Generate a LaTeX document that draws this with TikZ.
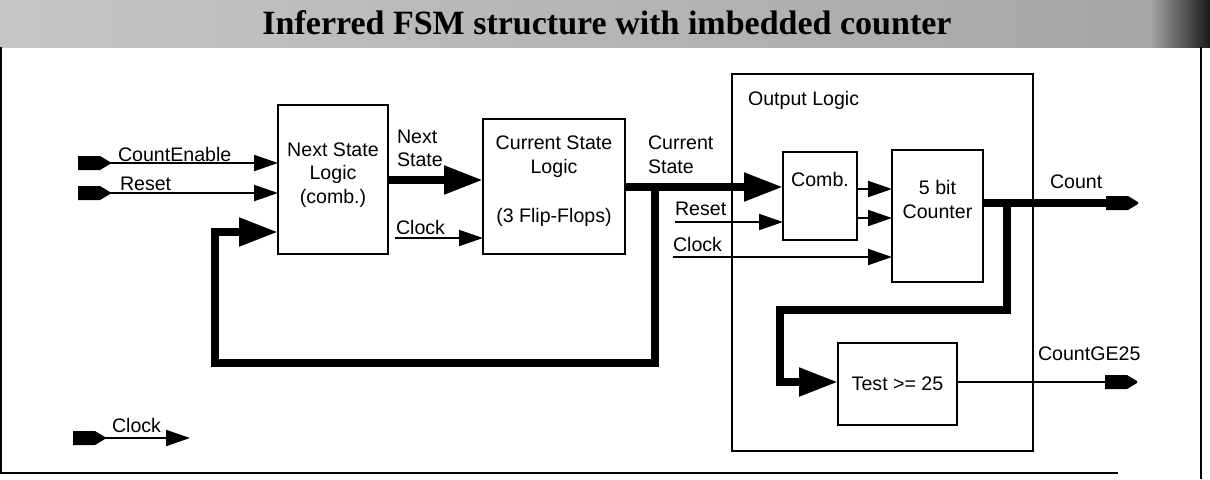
\documentclass[tikz,border=0pt]{standalone}
\usepackage{fontspec}
\setmainfont{Liberation Sans}
\newfontfamily\titlefont{Liberation Serif}
\usetikzlibrary{arrows.meta}
\begin{document}
\begin{tikzpicture}[x=0.5pt,y=-0.5pt,
  blk/.style={draw,line width=1.3pt,inner sep=0pt,outer sep=0pt,rectangle},
  lbl/.style={inner sep=0pt,outer sep=0pt,font=\fontsize{9.8pt}{11.75pt}\selectfont,anchor=base west},
  blbl/.style={inner sep=0pt,outer sep=0pt,font=\fontsize{9.8pt}{11.75pt}\selectfont,anchor=base},
  sig/.style={line width=1pt,-{Triangle[length=12pt,width=8pt]}},
  bus/.style={line width=4pt,line join=miter,-{Triangle[length=19.5pt,width=13.5pt]}},
  busline/.style={line width=4pt,line join=miter},
  frameline/.style={line width=1.3pt},
  porttag/.pic={\fill (0,-7) -- (22,-7) -- (32,-1) -- (32,1) -- (22,7) -- (0,7) -- cycle;}
]
\useasboundingbox (0,0) rectangle (1210,479);
% title band
\shade[left color=gray!45,right color=gray!70] (0,0) rectangle (1150,47);
\shade[left color=gray!70,right color=black!90] (1150,0) rectangle (1210,47);
\node[inner sep=0pt,anchor=base,font=\titlefont\bfseries\fontsize{17pt}{20pt}\selectfont] (title) at (607,34) {Inferred FSM structure with imbedded counter};
% frame
\draw[frameline] (1,47) -- (1,473);
\draw[frameline] (0,473) -- (1118,473);
\draw[frameline] (1201,47) -- (1201,479);

% output logic container
\node[blk,minimum width=150.5pt,minimum height=188.5pt] (outl) at (882.5,262.5) {};
\node[lbl] (outlT) at (748,105) {Output Logic};

% blocks
\node[blk,minimum width=55pt,minimum height=74.5pt] (ns) at (333,179.5) {};
\node[blbl] (nsT1) at (333,156) {Next State};
\node[blbl] (nsT2) at (333,179) {Logic};
\node[blbl] (nsT3) at (333,203) {(comb.)};

\node[blk,minimum width=71pt,minimum height=67.5pt] (cs) at (554,186.5) {};
\node[blbl] (csT1) at (554,149) {Current State};
\node[blbl] (csT2) at (554,173) {Logic};
\node[blbl] (csT3) at (554,222) {(3 Flip-Flops)};

\node[blk,minimum width=37pt,minimum height=44pt] (comb) at (820,196) {};
\node[blbl] (combT) at (820,186) {Comb.};

\node[blk,minimum width=45.5pt,minimum height=66pt] (cnt) at (937.5,216) {};
\node[blbl] (cntT1) at (937.5,194) {5 bit};
\node[blbl] (cntT2) at (937.5,218) {Counter};

\node[blk,minimum width=59.5pt,minimum height=41pt] (test) at (897.5,384) {};
\node[blbl] (testT) at (897.5,390) {Test >= 25};

% input ports
\pic at (78,163) {porttag};
\coordinate (ceE) at (110,163);
\node[lbl] (ceL) at (118,161) {CountEnable};
\draw[sig] (ceE) -- (ceE -| ns.west);

\pic at (78,193) {porttag};
\coordinate (rsE) at (110,193);
\node[lbl] (rsL) at (120,190) {Reset};
\draw[sig] (rsE) -- (rsE -| ns.west);

% next state -> current state
\coordinate (nsy) at (0,180);
\draw[bus] (ns.east |- nsy) -- (cs.west |- nsy);
\node[lbl] (nsL1) at (397,143) {Next};
\node[lbl] (nsL2) at (397,166) {State};

% clock to current state
\coordinate (clk1) at (395,238);
\node[lbl] (clk1L) at (396,234) {Clock};
\draw[sig] (clk1) -- (clk1 -| cs.west);

% current state -> comb
\coordinate (csy) at (0,187);
\draw[bus] (cs.east |- csy) -- (comb.west |- csy);
\node[lbl] (csL1) at (648,149) {Current};
\node[lbl] (csL2) at (648,173) {State};

% feedback
\coordinate (j1) at (655,187);
\coordinate (fb1) at (655,363);
\coordinate (fb2) at (215,363);
\coordinate (fb3) at (215,232);
\draw[bus] (j1) -- (fb1) -- (fb2) -- (fb3) -- (fb3 -| ns.west);

% reset / clock into output logic
\coordinate (rs2) at (675,222);
\node[lbl] (rs2L) at (675,215) {Reset};
\draw[sig] (rs2) -- (rs2 -| comb.west);
\coordinate (clk2) at (673,257);
\node[lbl] (clk2L) at (673,251) {Clock};
\draw[sig] (clk2) -- (clk2 -| cnt.west);

% comb -> counter
\coordinate (c1) at (0,189);
\coordinate (c2) at (0,218);
\draw[sig] (comb.east |- c1) -- (cnt.west |- c1);
\draw[sig] (comb.east |- c2) -- (cnt.west |- c2);

% counter -> Count
\coordinate (cny) at (0,203);
\coordinate (cntE) at (1108,203);
\draw[busline] (cnt.east |- cny) -- (cntE);
\pic at (1106,203) {porttag};
\node[lbl] (cntL) at (1050,188) {Count};

% branch to test
\coordinate (b0) at (1007,203);
\coordinate (b1) at (1007,310);
\coordinate (b2) at (780,310);
\coordinate (b3) at (780,382);
\draw[bus] (b0) -- (b1) -- (b2) -- (b3) -- (b3 -| test.west);

% test -> CountGE25
\coordinate (geE) at (1107,382);
\draw[line width=1pt] (test.east |- geE) -- (geE);
\pic at (1105,382) {porttag};
\node[lbl] (geL) at (1038,360) {CountGE25};

% legend clock
\pic at (73,438) {porttag};
\coordinate (lgS) at (105,438);
\coordinate (lgE) at (190,438);
\draw[sig] (lgS) -- (lgE);
\node[lbl] (lgL) at (112,432) {Clock};
\end{tikzpicture}
\end{document}
